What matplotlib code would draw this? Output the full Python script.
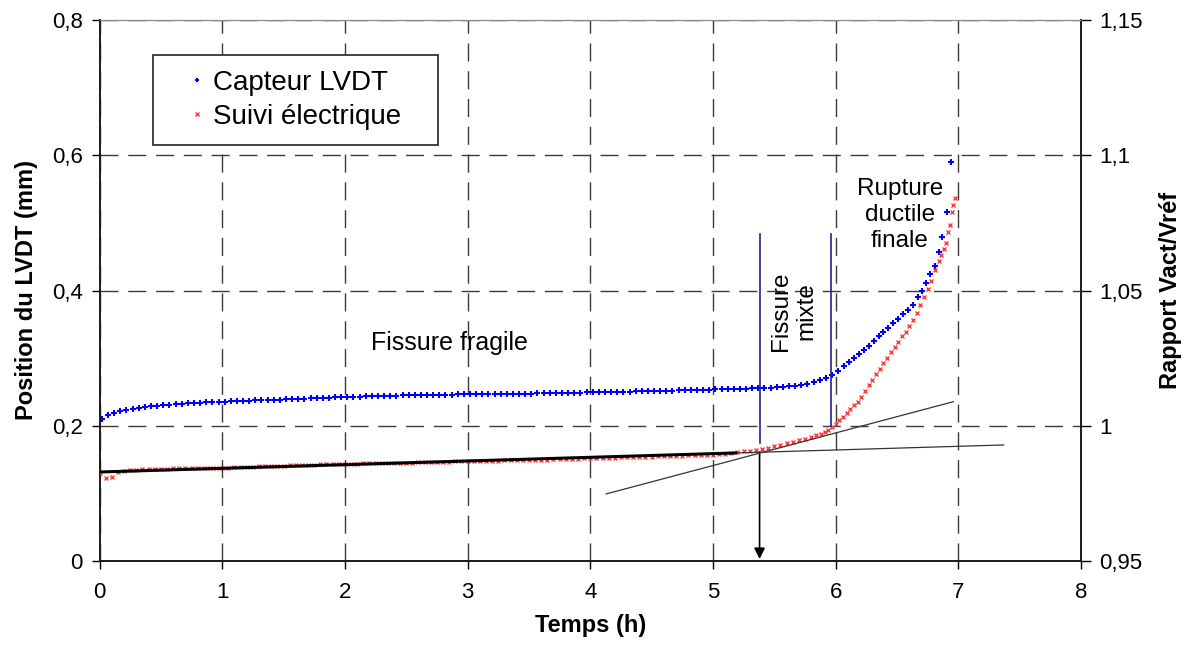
import numpy as np
import matplotlib
matplotlib.use("Agg")
import matplotlib.pyplot as plt
from matplotlib.patches import Rectangle
from matplotlib.ticker import FuncFormatter

plt.rcParams['font.family'] = ['Liberation Sans', 'DejaVu Sans']

# ---------------- data ----------------
# Capteur LVDT (left axis, mm)
t_lvdt = [
    0.02, 0.07, 0.12, 0.17, 0.22, 0.27, 0.32, 0.37, 0.42, 0.47, 0.52, 0.57, 0.62, 0.67, 0.72, 0.77,
    0.82, 0.87, 0.92, 0.97, 1.02, 1.07, 1.12, 1.17, 1.22, 1.27, 1.32, 1.37, 1.42, 1.47, 1.52, 1.57,
    1.62, 1.67, 1.72, 1.77, 1.82, 1.87, 1.92, 1.97, 2.02, 2.07, 2.12, 2.17, 2.22, 2.27, 2.32, 2.37,
    2.42, 2.47, 2.52, 2.57, 2.62, 2.67, 2.72, 2.77, 2.82, 2.87, 2.92, 2.97, 3.02, 3.07, 3.12, 3.17,
    3.22, 3.27, 3.32, 3.37, 3.42, 3.47, 3.52, 3.57, 3.62, 3.67, 3.72, 3.77, 3.82, 3.87, 3.92, 3.97,
    4.02, 4.07, 4.12, 4.17, 4.22, 4.27, 4.32, 4.37, 4.42, 4.47, 4.52, 4.57, 4.62, 4.67, 4.72, 4.77,
    4.82, 4.87, 4.92, 4.97, 5.02, 5.07, 5.12, 5.17, 5.22, 5.27, 5.32, 5.37, 5.42, 5.47, 5.52, 5.57,
    5.62, 5.67, 5.72, 5.77, 5.82, 5.87, 5.92, 5.97, 6.02, 6.07, 6.11, 6.15, 6.19, 6.23, 6.27, 6.31,
    6.35, 6.39, 6.43, 6.47, 6.51, 6.55, 6.59, 6.63, 6.67, 6.70, 6.74, 6.77, 6.81, 6.84, 6.87, 6.91,
    6.94]
pos_lvdt = [
    0.2095, 0.2160, 0.2195, 0.2218, 0.2235, 0.2250, 0.2262, 0.2272, 0.2285, 0.2297, 0.2305, 0.2312,
    0.2318, 0.2325, 0.2330, 0.2334, 0.2340, 0.2344, 0.2348, 0.2352, 0.2356, 0.2360, 0.2364, 0.2368,
    0.2372, 0.2378, 0.2380, 0.2382, 0.2385, 0.2388, 0.2390, 0.2392, 0.2396, 0.2400, 0.2405, 0.2410,
    0.2415, 0.2417, 0.2420, 0.2423, 0.2426, 0.2429, 0.2431, 0.2434, 0.2437, 0.2440, 0.2443, 0.2445,
    0.2446, 0.2448, 0.2450, 0.2452, 0.2453, 0.2455, 0.2456, 0.2458, 0.2460, 0.2462, 0.2463, 0.2465,
    0.2466, 0.2467, 0.2468, 0.2469, 0.2470, 0.2471, 0.2472, 0.2473, 0.2474, 0.2475, 0.2476, 0.2477,
    0.2478, 0.2479, 0.2480, 0.2482, 0.2485, 0.2488, 0.2490, 0.2492, 0.2494, 0.2496, 0.2498, 0.2500,
    0.2502, 0.2504, 0.2506, 0.2508, 0.2510, 0.2512, 0.2514, 0.2516, 0.2518, 0.2520, 0.2522, 0.2524,
    0.2527, 0.2530, 0.2533, 0.2536, 0.2539, 0.2541, 0.2543, 0.2545, 0.2547, 0.2549, 0.2551, 0.2554,
    0.2557, 0.2562, 0.2568, 0.2575, 0.2583, 0.2592, 0.2603, 0.2620, 0.2645, 0.2675, 0.2705, 0.2745,
    0.2810, 0.2890, 0.2950, 0.3000, 0.3060, 0.3120, 0.3180, 0.3250, 0.3320, 0.3390, 0.3450, 0.3520,
    0.3580, 0.3650, 0.3710, 0.3780, 0.3900, 0.4000, 0.4110, 0.4240, 0.4360, 0.4570, 0.4790, 0.5160,
    0.5900]

# Suivi électrique (right axis, Vact/Vref)
t_elec = [
    0.00, 0.05, 0.10, 0.15, 0.20, 0.25, 0.30, 0.35, 0.40, 0.45, 0.50, 0.55, 0.60, 0.65, 0.70, 0.75,
    0.80, 0.85, 0.90, 0.95, 1.00, 1.05, 1.10, 1.15, 1.20, 1.25, 1.30, 1.35, 1.40, 1.45, 1.50, 1.55,
    1.60, 1.65, 1.70, 1.75, 1.80, 1.85, 1.90, 1.95, 2.00, 2.05, 2.10, 2.15, 2.20, 2.25, 2.30, 2.35,
    2.40, 2.45, 2.50, 2.55, 2.60, 2.65, 2.70, 2.75, 2.80, 2.85, 2.90, 2.95, 3.00, 3.05, 3.10, 3.15,
    3.20, 3.25, 3.30, 3.35, 3.40, 3.45, 3.50, 3.55, 3.60, 3.65, 3.70, 3.75, 3.80, 3.85, 3.90, 3.95,
    4.00, 4.05, 4.10, 4.15, 4.20, 4.25, 4.30, 4.35, 4.40, 4.45, 4.50, 4.55, 4.60, 4.65, 4.70, 4.75,
    4.80, 4.85, 4.90, 4.95, 5.00, 5.05, 5.10, 5.15, 5.20, 5.25, 5.30, 5.35, 5.40, 5.45, 5.50, 5.55,
    5.60, 5.65, 5.70, 5.75, 5.80, 5.84, 5.88, 5.91, 5.94, 5.97, 6.00, 6.03, 6.06, 6.09, 6.12, 6.15,
    6.18, 6.21, 6.24, 6.27, 6.30, 6.33, 6.36, 6.39, 6.42, 6.45, 6.48, 6.51, 6.54, 6.57, 6.60, 6.63,
    6.66, 6.69, 6.72, 6.75, 6.78, 6.81, 6.84, 6.86, 6.88, 6.90, 6.92, 6.93, 6.95, 6.96, 6.97]
ratio_elec = [
    0.9826, 0.9808, 0.9812, 0.9828, 0.9834, 0.9836, 0.9838, 0.9839, 0.9840, 0.9840, 0.9841, 0.9841,
    0.9842, 0.9842, 0.9843, 0.9843, 0.9843, 0.9844, 0.9844, 0.9844, 0.9844, 0.9845, 0.9846, 0.9847,
    0.9848, 0.9849, 0.9850, 0.9850, 0.9851, 0.9852, 0.9853, 0.9854, 0.9854, 0.9855, 0.9856, 0.9856,
    0.9857, 0.9858, 0.9858, 0.9859, 0.9859, 0.9860, 0.9860, 0.9861, 0.9861, 0.9862, 0.9862, 0.9863,
    0.9863, 0.9864, 0.9864, 0.9864, 0.9865, 0.9865, 0.9866, 0.9866, 0.9867, 0.9867, 0.9868, 0.9868,
    0.9869, 0.9869, 0.9870, 0.9870, 0.9871, 0.9871, 0.9872, 0.9872, 0.9873, 0.9873, 0.9874, 0.9874,
    0.9875, 0.9875, 0.9876, 0.9876, 0.9877, 0.9877, 0.9878, 0.9879, 0.9880, 0.9880, 0.9881, 0.9882,
    0.9882, 0.9883, 0.9884, 0.9884, 0.9885, 0.9886, 0.9886, 0.9887, 0.9888, 0.9889, 0.9889, 0.9890,
    0.9891, 0.9891, 0.9892, 0.9892, 0.9893, 0.9895, 0.9897, 0.9899, 0.9902, 0.9905, 0.9908, 0.9911,
    0.9914, 0.9919, 0.9924, 0.9929, 0.9935, 0.9941, 0.9947, 0.9952, 0.9958, 0.9964, 0.9971, 0.9978,
    0.9986, 0.9996, 1.0008, 1.0021, 1.0033, 1.0047, 1.0062, 1.0075, 1.0089, 1.0108, 1.0127, 1.0150,
    1.0170, 1.0190, 1.0210, 1.0231, 1.0252, 1.0273, 1.0292, 1.0311, 1.0330, 1.0348, 1.0370, 1.0392,
    1.0416, 1.0446, 1.0475, 1.0505, 1.0536, 1.0575, 1.0610, 1.0631, 1.0652, 1.0675, 1.0715, 1.0742,
    1.0790, 1.0816, 1.0841]

# tangent lines (right axis units)
fit1_t = [0.0, 5.2, 7.37]
fit1_r = [0.9829, 0.98996, 0.9929]
fit2_t = [4.13, 6.96]
fit2_r = [0.9748, 1.0089]

# vertical markers (left axis units)
vline_t = [5.38, 5.96]
vline_top = [0.4835, 0.4835]
vline_bottom = [0.1745, 0.200]
arrow_t = 5.38
arrow_from, arrow_to = 0.161, 0.003

x_ticks = [0, 1, 2, 3, 4, 5, 6, 7, 8]
left_ticks = [0, 0.2, 0.4, 0.6, 0.8]
right_ticks = [0.95, 1.0, 1.05, 1.1, 1.15]

# ---------------- figure ----------------
W, H = 1186, 653
fig = plt.figure(figsize=(W / 100, H / 100), dpi=100)
L, R, T, B = 99.5, 1081, 20, 561
ax = fig.add_axes([L / W, 1 - B / H, (R - L) / W, (B - T) / H])
ax2 = ax.twinx()

ax.set_xlim(0, 8)
ax.set_ylim(0, 0.8)
ax2.set_ylim(0.95, 1.15)

def comma(v, pos=None):
    s = ('%.2f' % v).rstrip('0').rstrip('.')
    return s.replace('.', ',')

ax.set_xticks(x_ticks)
ax.set_yticks(left_ticks)
ax2.set_yticks(right_ticks)
ax.yaxis.set_major_formatter(FuncFormatter(comma))
ax2.yaxis.set_major_formatter(FuncFormatter(comma))
ax.xaxis.set_major_formatter(FuncFormatter(comma))

grid_style = dict(color='#3a3a3a', linewidth=1.0, linestyle=(0, (13, 7)))
ax.grid(True, which='major', axis='both', **grid_style)
ax.set_axisbelow(True)

for a in (ax, ax2):
    for s in a.spines.values():
        s.set_color('#1a1a1a')
        s.set_linewidth(1.2)
    a.spines['top'].set_color('#8a8a8a')
    a.spines['top'].set_linewidth(0.8)

ax.tick_params(axis='both', direction='out', length=6, width=1.0, labelsize=16, colors='black')
ax.tick_params(axis='x', pad=9)
ax.tick_params(axis='y', pad=6)
ax2.tick_params(axis='y', direction='out', length=7, width=1.0, labelsize=16, pad=6)

# data
h1, = ax.plot(t_lvdt, pos_lvdt, linestyle='none', marker='+', markersize=4, markeredgewidth=1.5,
              color='#0000ff', zorder=3, label='Capteur LVDT')
h2, = ax2.plot(t_elec, ratio_elec, linestyle='none', marker='x', markersize=3.5, markeredgewidth=1.0,
               color='#ff3a3a', zorder=3, label='Suivi électrique')

# tangent lines
ax2.plot(fit1_t[:2], fit1_r[:2], color='black', linewidth=2.2, zorder=4, solid_capstyle='butt')
ax2.plot(fit1_t[1:], fit1_r[1:], color='#333333', linewidth=0.9, zorder=4)
ax2.plot(fit2_t, fit2_r, color='#333333', linewidth=0.9, zorder=4)

# vertical navy lines
for t, y0, y1 in zip(vline_t, vline_bottom, vline_top):
    ax2.plot([t, t], [ax2.transData.inverted().transform(ax.transData.transform((t, y0)))[1],
                      ax2.transData.inverted().transform(ax.transData.transform((t, y1)))[1]],
             color='#22228f', linewidth=1.2, zorder=5)

# arrow
ax.annotate('', xy=(arrow_t, arrow_to), xytext=(arrow_t, arrow_from),
            arrowprops=dict(arrowstyle='-|>', color='black', lw=1.2, mutation_scale=16,
                            shrinkA=0, shrinkB=0), zorder=6)

# annotations
ax.text(2.849, 0.312, 'Fissure fragile', ha='center', va='baseline', fontsize=18)
ax.text(5.66, 0.370, 'Fissure\nmixte', ha='center', va='center', rotation=90, fontsize=17.5,
        linespacing=1.2, multialignment='center')
ax.text(6.525, 0.5117, 'Rupture\nductile\nfinale', ha='center', va='center', fontsize=17.5,
        linespacing=1.25, multialignment='center')

# axis labels
ax.set_xlabel('Temps (h)', fontsize=17, fontweight='bold', labelpad=8)
ax.set_ylabel('Position du LVDT (mm)', fontsize=17, fontweight='bold', labelpad=10)
ax2.set_ylabel('Rapport Vact/Vréf', fontsize=17, fontweight='bold', labelpad=12)

# legend with manual frame
ax2.add_patch(Rectangle((0.0542, 0.769), 0.2904, 0.1664, transform=ax2.transAxes,
                        facecolor='white', edgecolor='#222222', linewidth=1.2, zorder=7))
leg = ax2.legend(handles=[h1, h2], loc='upper left', bbox_to_anchor=(0.0877, 0.908),
                 frameon=False, fontsize=20, borderpad=0, borderaxespad=0,
                 handlelength=0.8, handletextpad=0.2, labelspacing=0.3, markerscale=0.7)
leg.set_zorder(8)

fig.savefig('out.png', dpi=100)
